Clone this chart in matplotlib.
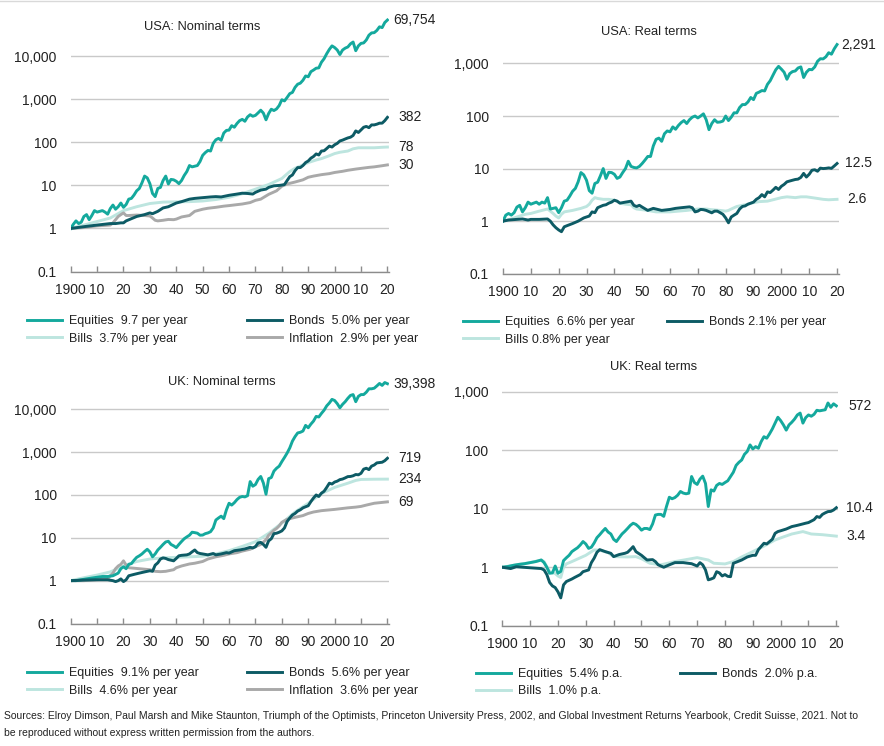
import matplotlib
matplotlib.use("Agg")
import matplotlib.pyplot as plt
from matplotlib.lines import Line2D
from matplotlib.ticker import FixedLocator, NullLocator

plt.rcParams["font.family"] = ["Liberation Sans", "DejaVu Sans"]

# ---- colours
C_EQ = "#14a99d"
C_BO = "#0d5b65"
C_BI = "#bde5df"
C_IN = "#a9a9a9"
C_TXT = "#222222"

# ---- USA, nominal (1900 = 1)
usa_nom_equities = [
    (1900, 1.0), (1901, 1.25), (1902, 1.5), (1903, 1.3), (1904, 1.4), (1905, 1.9), (1906, 2.1),
    (1907, 1.6), (1908, 2.0), (1909, 2.6), (1910, 2.4), (1911, 2.5), (1912, 2.6), (1913, 2.4),
    (1914, 2.15), (1915, 2.9), (1916, 3.5), (1917, 2.8), (1918, 3.2), (1919, 3.9), (1920, 3.1),
    (1921, 3.6), (1922, 4.8), (1923, 5.0), (1924, 6.0), (1925, 7.5), (1926, 8.5), (1927, 11.5),
    (1928, 16.5), (1929, 15.0), (1930, 11.0), (1931, 6.5), (1932, 5.5), (1933, 8.5), (1934, 9.0),
    (1935, 13.0), (1936, 16.5), (1937, 10.8), (1938, 13.8), (1939, 13.5), (1940, 12.5), (1941, 11.0),
    (1942, 13.0), (1943, 17.0), (1944, 21.0), (1945, 29.0), (1946, 27.0), (1947, 28.0), (1948, 29.0),
    (1949, 36.0), (1950, 50.0), (1951, 58.0), (1952, 65.0), (1953, 63.0), (1954, 95.0), (1955, 115),
    (1956, 124), (1957, 112), (1958, 165), (1959, 190), (1960, 193), (1961, 245), (1962, 225),
    (1963, 275), (1964, 320), (1965, 343), (1966, 310), (1967, 390), (1968, 440), (1969, 405),
    (1970, 425), (1971, 485), (1972, 560), (1973, 480), (1974, 335), (1975, 470), (1976, 590),
    (1977, 550), (1978, 600), (1979, 720), (1980, 980), (1981, 920), (1982, 1110), (1983, 1360),
    (1984, 1450), (1985, 1900), (1986, 2250), (1987, 2380), (1988, 2780), (1989, 3500), (1990, 3350),
    (1991, 4400), (1992, 4800), (1993, 5300), (1994, 5400), (1995, 7300), (1996, 8800), (1997, 11500),
    (1998, 14500), (1999, 17500), (2000, 16000), (2001, 14000), (2002, 11000), (2003, 14000),
    (2004, 15500), (2005, 16500), (2006, 19500), (2007, 21500), (2008, 13500), (2009, 17500),
    (2010, 20000), (2011, 20500), (2012, 24000), (2013, 31000), (2014, 35000), (2015, 35500),
    (2016, 40000), (2017, 48500), (2018, 46500), (2019, 61000), (2020, 69754),
]
usa_nom_bonds = [
    (1900, 1.0), (1905, 1.1), (1910, 1.2), (1915, 1.3), (1917, 1.3), (1919, 1.35), (1920, 1.35),
    (1921, 1.5), (1925, 1.9), (1928, 2.1), (1930, 2.3), (1931, 2.2), (1933, 2.5), (1935, 3.0),
    (1937, 3.2), (1940, 3.9), (1942, 4.2), (1945, 4.8), (1947, 5.0), (1950, 5.2), (1953, 5.4),
    (1955, 5.5), (1957, 5.4), (1960, 5.9), (1963, 6.3), (1965, 6.6), (1967, 6.5), (1969, 6.3),
    (1970, 6.9), (1972, 7.8), (1974, 8.2), (1975, 9.0), (1977, 9.8), (1979, 10.0), (1980, 10.2),
    (1981, 10.5), (1982, 13.0), (1983, 16.0), (1984, 17.5), (1985, 22.0), (1986, 26.0), (1987, 26.0),
    (1988, 29.0), (1989, 34.0), (1990, 37.0), (1991, 43.0), (1992, 47.0), (1993, 54.0), (1994, 51.0),
    (1995, 63.0), (1996, 64.0), (1997, 72.0), (1998, 82.0), (1999, 78.0), (2000, 88.0), (2001, 95.0),
    (2002, 108), (2003, 113), (2004, 120), (2005, 127), (2006, 132), (2007, 145), (2008, 185),
    (2009, 170), (2010, 195), (2011, 225), (2012, 235), (2013, 220), (2014, 255), (2015, 255),
    (2016, 265), (2017, 280), (2018, 280), (2019, 320), (2020, 382),
]
usa_nom_bills = [
    (1900, 1.0), (1905, 1.2), (1910, 1.45), (1915, 1.75), (1920, 2.6), (1925, 3.2), (1930, 3.8),
    (1935, 4.1), (1940, 4.15), (1945, 4.2), (1950, 4.35), (1955, 4.7), (1960, 5.3), (1965, 6.4),
    (1970, 8.2), (1975, 10.5), (1980, 14.5), (1983, 21.0), (1985, 25.0), (1988, 30.0), (1990, 34.0),
    (1993, 39.0), (1995, 42.0), (1998, 49.0), (2000, 55.0), (2002, 59.0), (2005, 63.0), (2007, 71.0),
    (2009, 75.0), (2012, 75.0), (2015, 75.0), (2018, 77.0), (2020, 78.0),
]
usa_nom_inflation = [
    (1900, 1.0), (1905, 1.05), (1910, 1.15), (1915, 1.2), (1916, 1.35), (1917, 1.6), (1918, 1.9),
    (1919, 2.1), (1920, 2.3), (1921, 2.0), (1922, 2.0), (1925, 2.05), (1928, 2.0), (1930, 1.95),
    (1931, 1.75), (1932, 1.55), (1933, 1.5), (1935, 1.55), (1937, 1.62), (1939, 1.6), (1940, 1.65),
    (1942, 1.85), (1945, 2.0), (1947, 2.5), (1950, 2.8), (1952, 2.95), (1955, 3.1), (1958, 3.3),
    (1960, 3.4), (1965, 3.7), (1968, 4.0), (1970, 4.5), (1972, 4.8), (1975, 6.2), (1978, 7.5),
    (1980, 9.6), (1982, 10.8), (1985, 12.0), (1988, 13.5), (1990, 15.5), (1992, 16.5), (1995, 17.8),
    (1998, 18.8), (2000, 20.0), (2003, 21.3), (2005, 22.5), (2008, 24.0), (2010, 24.9),
    (2013, 26.3), (2015, 27.0), (2018, 28.7), (2020, 30.0),
]

# ---- USA, real
usa_real_equities = [
    (1900, 1.0), (1901, 1.3), (1902, 1.4), (1903, 1.3), (1904, 1.45), (1905, 1.85), (1906, 2.0),
    (1907, 1.5), (1908, 1.8), (1909, 2.3), (1910, 2.1), (1911, 2.2), (1912, 2.3), (1913, 2.1),
    (1914, 2.3), (1915, 2.2), (1916, 2.8), (1917, 1.7), (1918, 1.75), (1919, 1.8), (1920, 1.45),
    (1921, 1.8), (1922, 2.4), (1923, 2.5), (1924, 3.0), (1925, 3.7), (1926, 4.2), (1927, 5.6),
    (1928, 8.4), (1929, 7.6), (1930, 6.0), (1931, 3.8), (1932, 3.4), (1933, 5.2), (1934, 5.5),
    (1935, 7.3), (1936, 10.0), (1937, 6.5), (1938, 8.5), (1939, 8.4), (1940, 7.8), (1941, 6.5),
    (1942, 6.9), (1943, 8.4), (1944, 10.0), (1945, 13.8), (1946, 11.0), (1947, 10.5), (1948, 10.3),
    (1949, 11.0), (1950, 12.5), (1951, 14.5), (1952, 17.0), (1953, 17.0), (1954, 27.0), (1955, 36.0),
    (1956, 38.0), (1957, 33.0), (1958, 46.0), (1959, 52.0), (1960, 50.0), (1961, 62.0), (1962, 56.0),
    (1963, 66.0), (1964, 75.0), (1965, 82.0), (1966, 72.0), (1967, 85.0), (1968, 95.0), (1969, 100),
    (1970, 92.0), (1971, 100), (1972, 110), (1973, 85.0), (1974, 55.0), (1975, 72.0), (1976, 85.0),
    (1977, 76.0), (1978, 77.0), (1979, 80.0), (1980, 100), (1981, 82.0), (1982, 95.0), (1983, 115),
    (1984, 115), (1985, 145), (1986, 165), (1987, 165), (1988, 185), (1989, 225), (1990, 205),
    (1991, 270), (1992, 285), (1993, 305), (1994, 300), (1995, 400), (1996, 470), (1997, 600),
    (1998, 760), (1999, 880), (2000, 780), (2001, 680), (2002, 500), (2003, 640), (2004, 700),
    (2005, 720), (2006, 820), (2007, 860), (2008, 540), (2009, 680), (2010, 770), (2011, 760),
    (2012, 860), (2013, 1100), (2014, 1230), (2015, 1220), (2016, 1340), (2017, 1600),
    (2018, 1500), (2019, 1900), (2020, 2291),
]
usa_real_bonds = [
    (1900, 1.0), (1902, 1.05), (1905, 1.08), (1907, 1.1), (1909, 1.05), (1910, 1.08), (1913, 1.08),
    (1916, 1.1), (1917, 1.0), (1918, 0.85), (1919, 0.75), (1920, 0.68), (1921, 0.63), (1922, 0.78),
    (1923, 0.82), (1925, 0.9), (1927, 1.0), (1929, 1.15), (1930, 1.2), (1931, 1.25), (1932, 1.5),
    (1933, 1.45), (1934, 1.8), (1935, 1.9), (1936, 2.0), (1937, 2.05), (1938, 2.2), (1939, 2.3),
    (1940, 2.5), (1941, 2.4), (1942, 2.2), (1944, 2.3), (1946, 2.4), (1947, 2.0), (1948, 1.9),
    (1949, 2.0), (1950, 1.85), (1952, 1.6), (1954, 1.75), (1957, 1.6), (1960, 1.67), (1962, 1.75),
    (1964, 1.8), (1967, 1.87), (1968, 1.8), (1969, 1.5), (1970, 1.55), (1971, 1.67), (1972, 1.65),
    (1973, 1.6), (1975, 1.44), (1976, 1.55), (1977, 1.55), (1978, 1.45), (1979, 1.35), (1980, 1.15),
    (1981, 0.93), (1982, 1.2), (1983, 1.3), (1984, 1.4), (1985, 1.7), (1986, 1.9), (1987, 1.95),
    (1988, 2.1), (1990, 2.3), (1991, 2.6), (1992, 2.8), (1993, 3.2), (1994, 2.9), (1995, 3.6),
    (1996, 3.5), (1997, 3.9), (1998, 4.4), (1999, 4.0), (2000, 4.6), (2001, 5.0), (2002, 5.6),
    (2003, 5.8), (2004, 6.0), (2005, 6.2), (2006, 6.3), (2007, 6.8), (2008, 8.1), (2009, 6.9),
    (2010, 7.8), (2011, 9.3), (2012, 9.5), (2013, 8.9), (2014, 10.2), (2015, 10.0), (2016, 10.1),
    (2017, 10.3), (2018, 10.1), (2019, 11.2), (2020, 12.5),
]
usa_real_bills = [
    (1900, 1.0), (1903, 1.1), (1905, 1.2), (1908, 1.35), (1910, 1.4), (1913, 1.55), (1915, 1.65),
    (1916, 1.7), (1917, 1.55), (1918, 1.4), (1919, 1.25), (1920, 1.15), (1921, 1.35), (1922, 1.5),
    (1925, 1.6), (1928, 1.75), (1930, 1.9), (1931, 2.1), (1932, 2.5), (1933, 2.8), (1934, 2.7),
    (1936, 2.6), (1938, 2.6), (1940, 2.5), (1941, 2.4), (1942, 2.2), (1944, 2.1), (1946, 2.05),
    (1947, 1.8), (1948, 1.7), (1950, 1.65), (1952, 1.6), (1955, 1.5), (1958, 1.5), (1960, 1.5),
    (1963, 1.55), (1966, 1.6), (1970, 1.7), (1973, 1.7), (1975, 1.65), (1978, 1.6), (1980, 1.55),
    (1981, 1.6), (1982, 1.7), (1984, 1.9), (1986, 2.0), (1988, 2.1), (1990, 2.25), (1992, 2.35),
    (1995, 2.4), (1997, 2.55), (2000, 2.8), (2002, 2.9), (2005, 2.8), (2007, 2.9), (2009, 2.9),
    (2011, 2.8), (2013, 2.7), (2015, 2.6), (2017, 2.55), (2020, 2.6),
]

# ---- UK, nominal
uk_nom_equities = [
    (1900, 1.0), (1902, 1.0), (1904, 1.05), (1906, 1.1), (1908, 1.15), (1910, 1.2), (1912, 1.25),
    (1914, 1.25), (1916, 1.3), (1918, 1.5), (1919, 1.9), (1920, 2.1), (1921, 1.9), (1922, 2.4),
    (1923, 2.5), (1924, 3.0), (1925, 3.5), (1926, 3.8), (1927, 4.2), (1928, 4.8), (1929, 5.4),
    (1930, 4.7), (1931, 3.6), (1932, 4.2), (1933, 5.2), (1934, 6.0), (1935, 7.0), (1936, 8.0),
    (1937, 8.3), (1938, 7.0), (1939, 6.5), (1940, 5.9), (1941, 7.0), (1942, 8.2), (1943, 9.5),
    (1944, 10.5), (1945, 11.5), (1946, 13.5), (1947, 13.2), (1948, 12.8), (1949, 11.5), (1950, 11.6),
    (1951, 12.5), (1952, 13.0), (1953, 13.9), (1954, 17.0), (1955, 26.0), (1956, 29.0), (1957, 32.0),
    (1958, 28.0), (1959, 45.0), (1960, 64.0), (1961, 58.0), (1962, 66.0), (1963, 78.0), (1964, 88.0),
    (1965, 92.0), (1966, 90.0), (1967, 96.0), (1968, 205), (1969, 160), (1970, 175), (1971, 230),
    (1972, 270), (1973, 190), (1974, 104), (1975, 240), (1976, 255), (1977, 360), (1978, 420),
    (1979, 470), (1980, 600), (1981, 750), (1982, 950), (1983, 1250), (1984, 1800), (1985, 2300),
    (1986, 2800), (1987, 2900), (1988, 3100), (1989, 4200), (1990, 3700), (1991, 4500), (1992, 5300),
    (1993, 6800), (1994, 6600), (1995, 8000), (1996, 9500), (1997, 12000), (1998, 14000),
    (1999, 17000), (2000, 16000), (2001, 13500), (2002, 10800), (2003, 13000), (2004, 15000),
    (2005, 18000), (2006, 21000), (2007, 22000), (2008, 15000), (2009, 20000), (2010, 22000),
    (2011, 22000), (2012, 25000), (2013, 30000), (2014, 30000), (2015, 31000), (2016, 35000),
    (2017, 40000), (2018, 36000), (2019, 42000), (2020, 39398),
]
uk_nom_bonds = [
    (1900, 1.0), (1905, 1.03), (1910, 1.05), (1914, 1.05), (1916, 1.0), (1917, 0.95), (1918, 1.0),
    (1919, 1.1), (1920, 0.95), (1921, 1.05), (1922, 1.3), (1924, 1.4), (1926, 1.5), (1928, 1.6),
    (1930, 1.7), (1931, 1.65), (1932, 2.3), (1933, 2.6), (1934, 3.2), (1935, 3.4), (1936, 3.3),
    (1937, 3.1), (1938, 3.0), (1939, 2.9), (1940, 3.3), (1941, 3.8), (1942, 3.9), (1944, 4.0),
    (1945, 4.2), (1946, 4.7), (1947, 5.2), (1948, 4.5), (1949, 4.3), (1950, 4.2), (1952, 4.0),
    (1954, 4.3), (1955, 4.0), (1957, 4.2), (1959, 4.5), (1960, 4.4), (1962, 5.0), (1964, 5.2),
    (1966, 5.5), (1968, 6.0), (1969, 5.8), (1970, 6.2), (1971, 7.6), (1972, 7.8), (1973, 7.0),
    (1974, 6.0), (1975, 8.5), (1976, 9.5), (1977, 12.5), (1978, 12.8), (1979, 13.5), (1980, 14.5),
    (1981, 17.0), (1982, 24.0), (1983, 29.0), (1984, 34.0), (1985, 37.0), (1986, 42.0), (1987, 45.0),
    (1988, 50.0), (1989, 53.0), (1990, 56.0), (1991, 70.0), (1992, 85.0), (1993, 100), (1994, 92.0),
    (1995, 110), (1996, 122), (1997, 150), (1998, 188), (1999, 180), (2000, 200), (2001, 210),
    (2002, 228), (2003, 235), (2004, 250), (2005, 268), (2006, 270), (2007, 280), (2008, 300),
    (2009, 295), (2010, 320), (2011, 400), (2012, 420), (2013, 390), (2014, 470), (2015, 500),
    (2016, 560), (2017, 570), (2018, 580), (2019, 630), (2020, 719),
]
uk_nom_bills = [
    (1900, 1.0), (1905, 1.17), (1910, 1.35), (1915, 1.6), (1920, 2.2), (1925, 2.8), (1930, 3.2),
    (1935, 3.4), (1940, 3.5), (1945, 3.6), (1950, 3.7), (1955, 4.2), (1960, 5.0), (1965, 6.3),
    (1970, 8.1), (1975, 12.7), (1980, 22.0), (1985, 40.0), (1990, 64.0), (1995, 108), (2000, 150),
    (2005, 188), (2008, 218), (2010, 230), (2015, 233), (2020, 234),
]
uk_nom_inflation = [
    (1900, 1.0), (1905, 1.0), (1910, 1.05), (1914, 1.1), (1915, 1.3), (1916, 1.5), (1917, 1.9),
    (1918, 2.2), (1919, 2.4), (1920, 2.9), (1921, 2.3), (1922, 2.0), (1924, 1.95), (1926, 1.9),
    (1928, 1.85), (1930, 1.8), (1932, 1.65), (1934, 1.62), (1936, 1.65), (1938, 1.75), (1939, 1.8),
    (1940, 2.0), (1942, 2.2), (1945, 2.45), (1947, 2.55), (1950, 2.8), (1952, 3.2), (1955, 3.6),
    (1958, 3.9), (1960, 4.2), (1963, 4.5), (1965, 4.9), (1968, 5.4), (1970, 6.2), (1972, 7.0),
    (1974, 9.0), (1975, 11.5), (1976, 13.0), (1977, 15.0), (1978, 16.5), (1979, 19.0), (1980, 23.0),
    (1982, 27.0), (1985, 30.0), (1988, 33.0), (1990, 37.0), (1992, 40.0), (1995, 43.0), (2000, 46.0),
    (2005, 50.0), (2008, 52.0), (2010, 54.0), (2012, 58.0), (2015, 64.0), (2020, 69.0),
]

# ---- UK, real
uk_real_equities = [
    (1900, 1.0), (1902, 1.03), (1904, 1.08), (1906, 1.12), (1908, 1.15), (1910, 1.2), (1912, 1.25),
    (1914, 1.33), (1915, 1.2), (1916, 1.0), (1917, 0.79), (1918, 0.8), (1919, 1.05), (1920, 0.79),
    (1921, 0.85), (1922, 1.3), (1923, 1.45), (1924, 1.6), (1925, 1.85), (1926, 2.0), (1927, 2.15),
    (1928, 2.4), (1929, 2.75), (1930, 2.5), (1931, 2.1), (1932, 2.2), (1933, 2.6), (1934, 3.2),
    (1935, 3.6), (1936, 4.1), (1937, 4.6), (1938, 4.0), (1939, 3.7), (1940, 3.0), (1941, 2.75),
    (1942, 3.2), (1943, 3.7), (1944, 4.1), (1945, 4.6), (1946, 5.2), (1947, 5.65), (1948, 5.4),
    (1949, 4.9), (1950, 4.3), (1951, 4.6), (1952, 4.6), (1953, 4.4), (1954, 5.5), (1955, 7.8),
    (1956, 8.0), (1957, 8.0), (1958, 7.4), (1959, 11.0), (1960, 15.7), (1961, 14.8), (1962, 15.5),
    (1963, 17.0), (1964, 19.7), (1965, 18.5), (1966, 18.0), (1967, 18.4), (1968, 35.5), (1969, 28.0),
    (1970, 26.0), (1971, 32.0), (1972, 36.0), (1973, 27.0), (1974, 10.9), (1975, 21.0), (1976, 20.0),
    (1977, 25.0), (1978, 27.0), (1979, 26.0), (1980, 28.0), (1981, 30.0), (1982, 35.5), (1983, 42.0),
    (1984, 55.0), (1985, 62.0), (1986, 68.0), (1987, 85.0), (1988, 95.0), (1989, 123), (1990, 105),
    (1991, 115), (1992, 108), (1993, 140), (1994, 170), (1995, 160), (1996, 190), (1997, 230),
    (1998, 290), (1999, 365), (2000, 320), (2001, 270), (2002, 220), (2003, 270), (2004, 300),
    (2005, 340), (2006, 400), (2007, 430), (2008, 290), (2009, 360), (2010, 400), (2011, 380),
    (2012, 410), (2013, 480), (2014, 470), (2015, 480), (2016, 490), (2017, 640), (2018, 540),
    (2019, 620), (2020, 572),
]
uk_real_bonds = [
    (1900, 1.0), (1903, 0.95), (1905, 1.02), (1910, 0.98), (1914, 0.95), (1915, 0.9), (1916, 0.75),
    (1917, 0.55), (1918, 0.48), (1919, 0.45), (1920, 0.38), (1921, 0.3), (1922, 0.5), (1923, 0.57),
    (1925, 0.63), (1926, 0.67), (1928, 0.75), (1929, 0.84), (1931, 0.9), (1932, 1.2), (1933, 1.43),
    (1934, 1.8), (1935, 2.0), (1937, 1.85), (1939, 1.73), (1940, 1.52), (1942, 1.65), (1944, 1.73),
    (1945, 1.8), (1946, 2.0), (1947, 2.25), (1948, 1.85), (1950, 1.6), (1952, 1.33), (1954, 1.35),
    (1955, 1.25), (1956, 1.1), (1958, 1.0), (1960, 1.1), (1962, 1.2), (1965, 1.2), (1968, 1.15),
    (1970, 1.05), (1971, 1.2), (1972, 1.1), (1973, 0.9), (1974, 0.61), (1975, 0.63), (1976, 0.66),
    (1977, 0.84), (1978, 0.8), (1979, 0.71), (1980, 0.75), (1981, 0.7), (1982, 0.69), (1983, 1.17),
    (1984, 1.22), (1986, 1.33), (1988, 1.5), (1990, 1.6), (1991, 1.6), (1992, 2.0), (1994, 2.57),
    (1995, 2.5), (1997, 3.0), (1998, 3.8), (1999, 4.07), (2000, 4.2), (2002, 4.5), (2004, 4.95),
    (2006, 5.2), (2008, 5.5), (2009, 5.66), (2010, 5.8), (2012, 6.5), (2013, 7.35), (2014, 7.1),
    (2015, 8.0), (2016, 8.5), (2017, 8.93), (2018, 9.0), (2019, 9.5), (2020, 10.4),
]
uk_real_bills = [
    (1900, 1.0), (1905, 1.1), (1910, 1.2), (1914, 1.33), (1915, 1.25), (1917, 0.84), (1919, 0.78),
    (1920, 0.71), (1921, 0.67), (1922, 1.0), (1923, 1.14), (1925, 1.25), (1928, 1.45), (1930, 1.6),
    (1933, 1.98), (1935, 1.95), (1938, 1.78), (1940, 1.52), (1945, 1.5), (1948, 1.52), (1950, 1.4),
    (1953, 1.17), (1957, 1.1), (1962, 1.25), (1966, 1.35), (1970, 1.46), (1974, 1.33), (1976, 1.17),
    (1980, 1.14), (1983, 1.25), (1986, 1.5), (1990, 1.85), (1994, 2.3), (1998, 2.93), (2001, 3.3),
    (2004, 3.7), (2008, 4.07), (2011, 3.7), (2015, 3.6), (2020, 3.4),
]

# ---- titles, axis ticks, legends, end labels
titles = ["USA: Nominal terms", "USA: Real terms", "UK: Nominal terms", "UK: Real terms"]
yticks_nominal = [0.1, 1, 10, 100, 1000, 10000]
yticks_real = [0.1, 1, 10, 100, 1000]
xticks = list(range(1900, 2021, 10))
xtick_labels = ["1900", "10", "20", "30", "40", "50", "60", "70", "80", "90", "2000", "10", "20"]
legend_left = [
    ["Equities  9.7 per year", "Bills  3.7% per year"],
    ["Equities  6.6% per year", "Bills 0.8% per year"],
    ["Equities  9.1% per year", "Bills  4.6% per year"],
    ["Equities  5.4% p.a.", "Bills  1.0% p.a."],
]
legend_right = [
    ["Bonds  5.0% per year", "Inflation  2.9% per year"],
    ["Bonds 2.1% per year"],
    ["Bonds  5.6% per year", "Inflation  3.6% per year"],
    ["Bonds  2.0% p.a."],
]
end_labels = [
    ["69,754", "382", "78", "30"],
    ["2,291", "12.5", "2.6"],
    ["39,398", "719", "234", "69"],
    ["572", "10.4", "3.4"],
]
source = ("Sources: Elroy Dimson, Paul Marsh and Mike Staunton, Triumph of the Optimists, Princeton "
          "University Press, 2002, and Global Investment Returns Yearbook, Credit Suisse, 2021. Not to")
source2 = "be reproduced without express written permission from the authors."

W, H = 884, 746
fig = plt.figure(figsize=(W / 100, H / 100), dpi=100)


def fx(px):
    return px / W


def fy(py):
    return 1 - py / H


# panel layout in pixels: left, right, y of 0.1, top, ymax
panels = [
    dict(l=70.7, r=389.0, y0=271.5, top=13.3, ymax=1e5, yt=yticks_nominal, tx=202, ty=27,
         lx1=27, lx2=247, rows=(321.7, 338.3), off=(4, 8, 8, 8)),
    dict(l=503.0, r=838.7, y0=273.7, top=10.9, ymax=1e4, yt=yticks_real, tx=649, ty=32,
         lx1=463, lx2=667, rows=(322.0, 340.0), off=(3, 6, 7)),
    dict(l=70.7, r=389.0, y0=623.5, top=366.4, ymax=1e5, yt=yticks_nominal, tx=222, ty=382,
         lx1=27, lx2=247, rows=(673.3, 690.7), off=(4, 8, 8, 8)),
    dict(l=502.3, r=838.0, y0=625.8, top=360.0, ymax=3470, yt=yticks_real, tx=654, ty=367,
         lx1=476, lx2=680, rows=(674.0, 691.7), off=(9, 7, 7)),
]

series = [
    [(usa_nom_equities, C_EQ), (usa_nom_bonds, C_BO), (usa_nom_bills, C_BI), (usa_nom_inflation, C_IN)],
    [(usa_real_equities, C_EQ), (usa_real_bonds, C_BO), (usa_real_bills, C_BI)],
    [(uk_nom_equities, C_EQ), (uk_nom_bonds, C_BO), (uk_nom_bills, C_BI), (uk_nom_inflation, C_IN)],
    [(uk_real_equities, C_EQ), (uk_real_bonds, C_BO), (uk_real_bills, C_BI)],
]

LW = 2.1

for i, p in enumerate(panels):
    ax = fig.add_axes([fx(p["l"]), fy(p["y0"]), fx(p["r"] - p["l"]), (p["y0"] - p["top"]) / H])
    ax.set_yscale("log")
    ax.set_ylim(0.1, p["ymax"])
    ax.set_xlim(1900, 2020.6)

    # bills/inflation underneath, equities/bonds on top
    for k, (data, col) in enumerate(series[i]):
        xs = [d[0] for d in data]
        ys = [d[1] for d in data]
        ax.plot(xs, ys, color=col, lw=LW, solid_joinstyle="round", zorder=4 if k < 2 else 3)
        ax.annotate(end_labels[i][k], xy=(xs[-1], ys[-1]), xytext=(p["off"][k], 0),
                    textcoords="offset points", ha="left", va="center", fontsize=10, color=C_TXT)

    yt = p["yt"]
    ax.yaxis.set_major_locator(FixedLocator(yt))
    ax.yaxis.set_minor_locator(NullLocator())
    ax.set_yticklabels([f"{v:,.0f}" if v >= 1 else "0.1" for v in yt])
    ax.tick_params(axis="y", length=0, pad=10, labelsize=10, labelcolor=C_TXT)

    ax.xaxis.set_major_locator(FixedLocator(xticks))
    ax.xaxis.set_minor_locator(NullLocator())
    ax.set_xticklabels(xtick_labels)
    ax.tick_params(axis="x", direction="in", length=4, width=1, color="#8c8c8c", pad=8,
                   labelsize=10, labelcolor=C_TXT)

    ax.grid(axis="y", color="#c9c9c9", lw=1)
    ax.set_axisbelow(True)
    for s in ("top", "right", "left"):
        ax.spines[s].set_visible(False)
    ax.spines["bottom"].set_color("#8c8c8c")
    ax.spines["bottom"].set_linewidth(1)
    ax.set_facecolor("none")

    fig.text(fx(p["tx"]), fy(p["ty"]), titles[i], ha="center", va="center", fontsize=9.3, color=C_TXT)

    # legends: two separate columns so they sit where the reference puts them
    r1, r2 = p["rows"]
    h1 = [Line2D([], [], color=c, lw=LW) for c in (C_EQ, C_BI)]
    fig.legend(h1, legend_left[i], loc="center left", bbox_to_anchor=(fx(p["lx1"]), fy((r1 + r2) / 2)),
               frameon=False, borderpad=0, borderaxespad=0, handlelength=2.8, handletextpad=0.55,
               labelspacing=0.42, fontsize=9, labelcolor=C_TXT)
    n = len(legend_right[i])
    h2 = [Line2D([], [], color=c, lw=LW) for c in (C_BO, C_IN)[:n]]
    yc = (r1 + r2) / 2 if n == 2 else r1
    fig.legend(h2, legend_right[i], loc="center left", bbox_to_anchor=(fx(p["lx2"]), fy(yc)),
               frameon=False, borderpad=0, borderaxespad=0, handlelength=2.8, handletextpad=0.55,
               labelspacing=0.42, fontsize=9, labelcolor=C_TXT)

fig.text(fx(4), fy(716), source, ha="left", va="center", fontsize=7.45, color=C_TXT)
fig.text(fx(4), fy(733), source2, ha="left", va="center", fontsize=7.45, color=C_TXT)

# faint frame line along the top edge
fig.add_artist(Line2D([0, 1], [fy(0.5), fy(0.5)], color="#d9d9d9", lw=1))

fig.savefig("out.png", dpi=100)
